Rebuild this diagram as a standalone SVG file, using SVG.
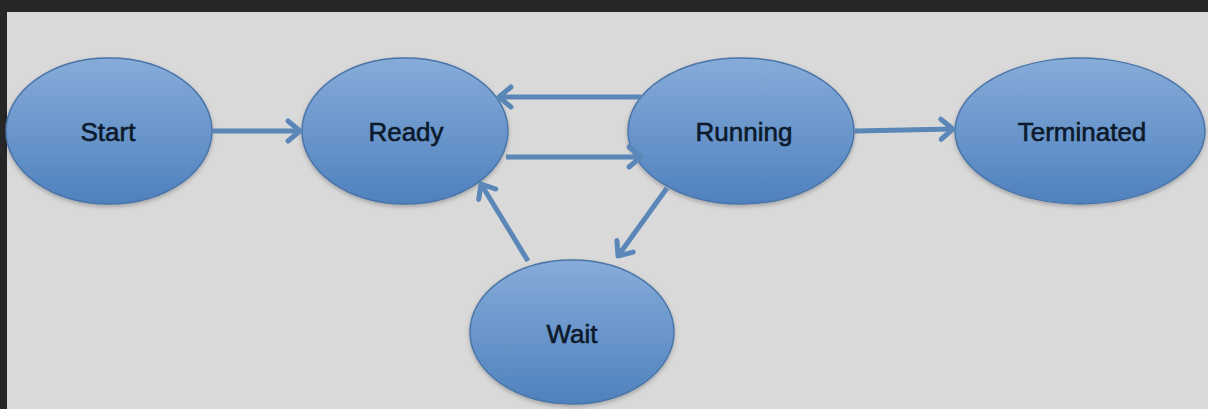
<svg xmlns="http://www.w3.org/2000/svg" width="1208" height="409" viewBox="0 0 1208 409">
<defs>
<linearGradient id="g" x1="0" y1="0" x2="0" y2="1">
<stop offset="0" stop-color="#86acd9"/>
<stop offset="1" stop-color="#4f81be"/>
</linearGradient>
<filter id="sh" x="-10%" y="-10%" width="120%" height="130%">
<feDropShadow dx="0" dy="2" stdDeviation="2" flood-color="#000" flood-opacity="0.25"/>
</filter>
<marker id="ah" markerWidth="18" markerHeight="22" refX="14" refY="11" orient="auto" markerUnits="userSpaceOnUse" overflow="visible">
<path d="M2,1 L14,11 L2,21" fill="none" stroke="#5b87b8" stroke-width="5" stroke-linecap="round" stroke-linejoin="round"/>
</marker>
<style>
.n ellipse{fill:url(#g);stroke:#4a74a8;stroke-width:1.5;filter:url(#sh)}
.n text{font-family:"Liberation Sans",Arial,sans-serif;font-size:26px;fill:#0c1a2c;stroke:#0c1a2c;stroke-width:0.6;text-anchor:middle}
.c line{stroke:#5b87b8;stroke-width:5;marker-end:url(#ah)}
</style>
</defs>
<rect x="0" y="0" width="1208" height="409" fill="#262626"/>
<rect x="7" y="12" width="1201" height="397" fill="#d9d9d9"/>
<g class="n" id="start"><ellipse cx="109" cy="131" rx="103" ry="73"/><text x="108" y="141">Start</text></g>
<g class="n" id="ready"><ellipse cx="405" cy="131" rx="103" ry="73"/><text x="406" y="141">Ready</text></g>
<g class="n" id="running"><ellipse cx="741" cy="131" rx="113" ry="73"/><text x="744" y="141">Running</text></g>
<g class="n" id="terminated"><ellipse cx="1080" cy="131" rx="125" ry="73"/><text x="1082" y="141">Terminated</text></g>
<g class="n" id="wait"><ellipse cx="572" cy="332" rx="102" ry="72"/><text x="572" y="343">Wait</text></g>
<g class="c" id="connectors">
<line x1="212" y1="131" x2="300" y2="131"/>
<line x1="641" y1="97" x2="499" y2="97"/>
<line x1="506" y1="157" x2="641" y2="157"/>
<line x1="855" y1="131" x2="953" y2="129"/>
<line x1="528" y1="261" x2="481" y2="184"/>
<line x1="667" y1="188" x2="618" y2="256"/>
</g>
</svg>
